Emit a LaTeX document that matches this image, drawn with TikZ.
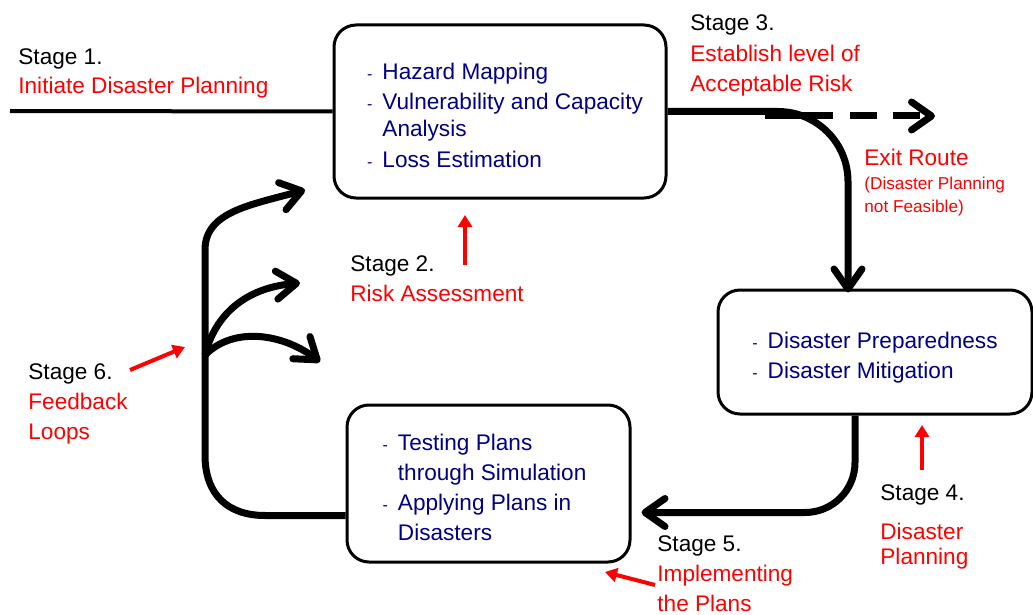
\documentclass[tikz,border=0pt]{standalone}
\usepackage{fontspec}
\setmainfont{Liberation Sans}
\usetikzlibrary{arrows.meta,calc}
\definecolor{navyblue}{RGB}{0,0,128}
\tikzset{
  box/.style={draw, line width=1.5pt, rounded corners=11pt, text=navyblue, inner sep=0pt,
    font=\fontsize{11.3pt}{13.5pt}\selectfont},
  flow/.style={line width=3.5pt, -{Straight Barb[length=10pt,width=14pt,round]}},
  pointer/.style={red, line width=2pt, -{Triangle[length=6pt,width=7pt]}},
  stagetext/.style={align=left, anchor=base west, inner sep=0pt},
}
\newcommand{\bul}{{\footnotesize -}}

\begin{document}
\begin{tikzpicture}[x=0.5pt, y=-0.5pt, font=\fontsize{11.3pt}{14.8pt}\selectfont]
   \useasboundingbox (0,0) rectangle (1033,615);

   % boxes
   \node [box, minimum width=166pt, minimum height=86.5pt] (risk) at (500,111.5)
      {\begin{tabular}{@{\hspace{5pt}}l@{\hspace{5pt}}l@{}}
       \noalign{\vspace{7pt}}
       \bul & Hazard Mapping\\[1.5pt]
       \bul & Vulnerability and Capacity\\
            & Analysis\\[2pt]
       \bul & Loss Estimation
       \end{tabular}};
   \node [box, minimum width=157pt, minimum height=62pt] (plan) at (875,352)
      {\begin{tabular}{@{}l@{\hspace{5pt}}l@{}}
       \noalign{\vspace{6pt}}
       \bul & Disaster Preparedness\\[1.5pt]
       \bul & Disaster Mitigation
       \end{tabular}};
   \node [box, minimum width=141.5pt, minimum height=78.5pt] (test) at (488.5,483.5)
      {\begin{tabular}{@{}l@{\hspace{5pt}}l@{\hspace{4pt}}}
       \noalign{\vspace{7pt}}
       \bul & Testing Plans\\[1.5pt]
            & through Simulation\\[1.5pt]
       \bul & Applying Plans in\\[1.5pt]
            & Disasters
       \end{tabular}};

   % stage labels (base = last line)
   \node [stagetext] (st1) at (18,94) {Stage 1.\\\color{red}Initiate Disaster Planning};
   \node [stagetext] (st2) at (350,301) {Stage 2.\\\color{red}Risk Assessment};
   \node [stagetext] (st3) at (690,91) {Stage 3.\\[0.5pt]\color{red}Establish level of\\\color{red}Acceptable Risk};
   \node [stagetext] (st4) at (880,564) {Stage 4.\\[4.5pt]\color{red}Disaster\\[-2.5pt]\color{red}Planning};
   \node [stagetext] (st5) at (657,611) {Stage 5.\\\color{red}Implementing\\\color{red}the Plans};
   \node [stagetext] (st6) at (28,439) {Stage 6.\\\color{red}Feedback\\\color{red}Loops};
   \node [stagetext, red] (exit) at (864,165) {Exit Route};
   \node [stagetext, red, font=\fontsize{8.6pt}{11.5pt}\selectfont] (exitnote) at (864,212)
      {(Disaster Planning\\not Feasible)};

   % main flow
   \coordinate (start) at (10,111);
   \draw [line width=2pt] (start) -- (risk.west);
   \draw [flow, rounded corners=35pt] (risk.east) -| ($(plan.north)+(-27,4)$);
   \coordinate (exitA) at (765,116);
   \coordinate (exitB) at (935,116);
   \draw [flow, dash pattern=on 34pt off 8.5pt on 13.5pt off 8pt on 13.5pt off 60pt] (exitA) -- (exitB);
   \draw [flow, rounded corners=25pt] ($(plan.south)+(-20,0)$) |- ($(test.east)+(10,29)$);

   % feedback loops
   \coordinate (fork) at (205,355);
   \draw [flow] ($(test.west)+(0,32)$) -- (265,515.5)
      .. controls (228,515.5) and (205,495) .. (205,455) -- (205,250)
      .. controls (205,212) and (250,205) .. (305,190);
   \draw [flow] (fork) .. controls (215,315) and (245,288) .. (300,283);
   \draw [flow] (fork) .. controls (235,325) and (285,335) .. (320,362);

   % pointers
   \coordinate (p2a) at (465,265);
   \coordinate (p2b) at (465,215);
   \draw [pointer] (p2a) -- (p2b);
   \coordinate (p4a) at (922,470);
   \coordinate (p4b) at (922,425);
   \draw [pointer] (p4a) -- (p4b);
   \coordinate (p5a) at (655,585);
   \coordinate (p5b) at (605,572);
   \draw [pointer] (p5a) -- (p5b);
   \coordinate (p6a) at (130,370);
   \coordinate (p6b) at (185,347);
   \draw [pointer] (p6a) -- (p6b);
\end{tikzpicture}
\end{document}
